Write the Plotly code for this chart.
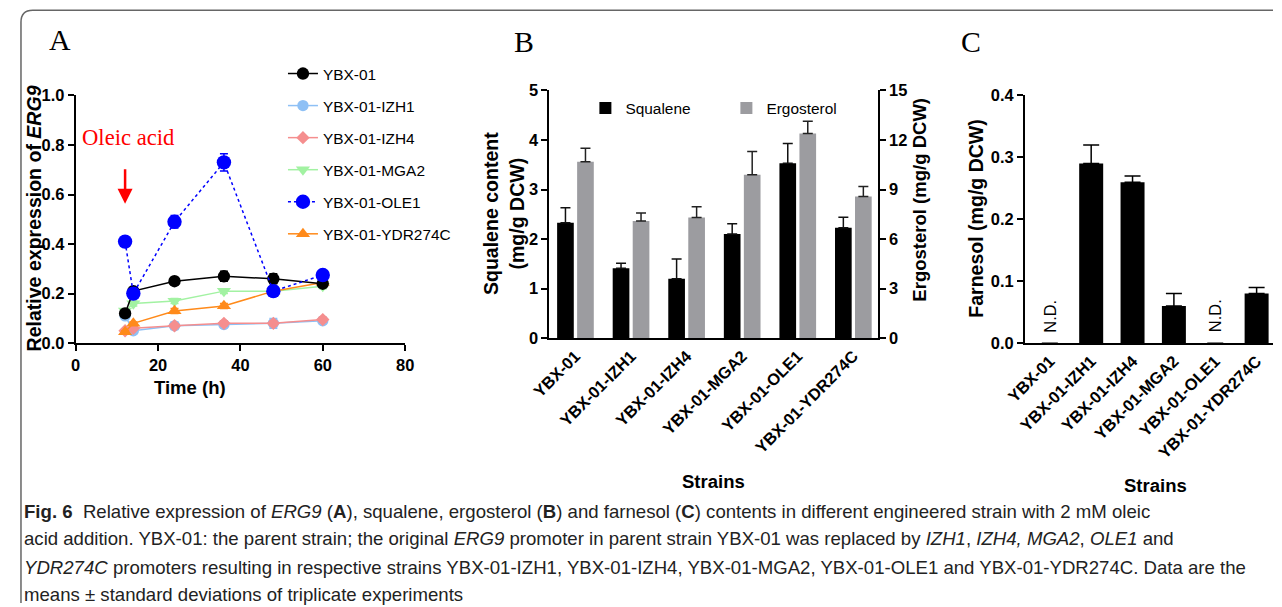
import plotly.graph_objects as go

# Measured page->picture transform of the renderer (body margin M, scale S, offset C).
M = 8
SX, CX = 0.976, 10.6
SY, CY = 0.968, 1.0
W, H = 1282, 612
FS = 1 / 0.972  # size compensation

# ---------------- data ----------------
times = [12, 14, 24, 36, 48, 60]
series_names = ["YBX-01", "YBX-01-IZH1", "YBX-01-IZH4", "YBX-01-MGA2", "YBX-01-OLE1", "YBX-01-YDR274C"]
ybx01 = [0.12, 0.21, 0.25, 0.27, 0.26, 0.24]
ybx01_err = [0.01, 0.01, 0.01, 0.02, 0.02, 0.01]
izh1 = [0.11, 0.05, 0.07, 0.075, 0.08, 0.09]
izh1_err = [0.005, 0.01, 0.015, 0.01, 0.02, 0.01]
izh4 = [0.05, 0.06, 0.07, 0.08, 0.08, 0.095]
izh4_err = [0.005, 0.005, 0.005, 0.01, 0.01, 0.01]
mga2 = [0.13, 0.16, 0.17, 0.21, 0.21, 0.23]
mga2_err = [0.005, 0.01, 0.01, 0.01, 0.01, 0.01]
ole1 = [0.41, 0.20, 0.49, 0.73, 0.21, 0.275]
ole1_err = [0.01, 0.01, 0.025, 0.035, 0.02, 0.01]
ydr = [0.045, 0.08, 0.13, 0.15, 0.21, 0.245]
ydr_err = [0.005, 0.005, 0.01, 0.01, 0.01, 0.01]

strains = ["YBX-01", "YBX-01-IZH1", "YBX-01-IZH4", "YBX-01-MGA2", "YBX-01-OLE1", "YBX-01-YDR274C"]
squalene = [2.33, 1.41, 1.20, 2.10, 3.53, 2.23]
squalene_err = [0.30, 0.10, 0.40, 0.21, 0.40, 0.21]
ergosterol = [10.68, 7.10, 7.30, 9.90, 12.40, 8.58]
ergosterol_err = [0.82, 0.48, 0.65, 1.40, 0.73, 0.60]
farnesol = [0, 0.29, 0.26, 0.06, 0, 0.08]
farnesol_err = [0, 0.03, 0.01, 0.02, 0, 0.01]
nd_strains = ["YBX-01", "YBX-01-OLE1"]
nd_y = [0.044, 0.044]

# ---------------- helpers (picture px -> paper) ----------------
def px(x):
    return min(1.0, max(0.0, ((x - CX) / SX - M) / W))

def py(y):
    return min(1.0, max(0.0, 1 - ((y - CY) / SY - M) / H))

def f(s):
    return round(s * FS, 2)

FONT = "Liberation Sans, Arial, sans-serif"
SERIF = "Liberation Serif, Times New Roman, serif"

fig = go.Figure()

# ---------------- Panel A ----------------
styleA = [
    (ybx01, ybx01_err, "black", "circle", 12, "solid"),
    (izh1, izh1_err, "#8ec0f5", "circle", 11, "solid"),
    (izh4, izh4_err, "#f58e8e", "diamond", 10, "solid"),
    (mga2, mga2_err, "#a2f2a2", "triangle-down", 12, "solid"),
    (ole1, ole1_err, "#0000ff", "circle", 14, "dot"),
    (ydr, ydr_err, "#ff8a1a", "triangle-up", 12, "solid"),
]
order = [1, 2, 3, 5, 0, 4]  # draw order (black & blue on top)
for i in order:
    vals, err, col, sym, sz, dash = styleA[i]
    fig.add_trace(go.Scatter(
        x=times, y=vals, mode="lines+markers", name=series_names[i],
        line=dict(color=col, width=1.5, dash=dash),
        marker=dict(color=col, symbol=sym, size=f(sz)),
        error_y=dict(type="data", array=err, color=col, thickness=1.5, width=4),
        xaxis="x", yaxis="y", legend="legend", legendgroup=series_names[i],
        legendrank=i + 1,
    ))

# ---------------- Panel B ----------------
fig.add_trace(go.Bar(
    x=strains, y=squalene, name="Squalene", marker=dict(color="black", line=dict(width=0)),
    width=0.30, offset=-0.33,
    error_y=dict(type="data", array=squalene_err, arrayminus=[0] * 6, color="#111", thickness=1.5, width=5),
    xaxis="x2", yaxis="y2", legend="legend2",
))
fig.add_trace(go.Bar(
    x=strains, y=ergosterol, name="Ergosterol", marker=dict(color="#9c9ca0", line=dict(width=0)),
    width=0.30, offset=0.03,
    error_y=dict(type="data", array=ergosterol_err, arrayminus=[0] * 6, color="#222", thickness=1.5, width=5),
    xaxis="x2", yaxis="y3", legend="legend2",
))

# ---------------- Panel C ----------------
fig.add_trace(go.Bar(
    x=strains, y=farnesol, name="Farnesol", marker=dict(color="black", line=dict(width=0)),
    width=0.58, showlegend=False,
    error_y=dict(type="data", array=farnesol_err, arrayminus=[0] * 6, color="black", thickness=1.5, width=8),
    xaxis="x3", yaxis="y4",
))

axis_common = dict(showline=True, linecolor="black", linewidth=2, showgrid=False, zeroline=False,
                   tickcolor="black", tickwidth=2, ticklen=6, ticks="outside")
tickA = dict(family=FONT, size=f(16), color="black", weight="bold")
tickB = dict(family=FONT, size=f(16), color="black", weight="bold")

# panel C keeps the reference category pitch (41.3 px) up to the right edge we can reach
c_right = (W + M) * SX + CX
c_range_end = -0.6 + (c_right - 1022) / 41.3

fig.update_layout(
    width=W, height=H, margin=dict(l=0, r=0, t=0, b=0),
    paper_bgcolor="white", plot_bgcolor="white",
    font=dict(family=FONT, color="black"),
    barmode="overlay",
    xaxis=dict(domain=[px(74), px(403)], range=[0, 80], anchor="y", tickvals=[0, 20, 40, 60, 80],
               tickfont=tickA, **axis_common),
    yaxis=dict(domain=[py(342), py(95)], range=[0, 1], anchor="x", tickvals=[0, 0.2, 0.4, 0.6, 0.8, 1.0],
               tickformat=".1f", tickfont=tickA, **axis_common),
    xaxis2=dict(domain=[px(547), px(875)], range=[-0.47, 5.44], anchor="y2", type="category",
                tickangle=-45, tickfont=tickB,
                showline=True, linecolor="black", linewidth=2, showgrid=False, zeroline=False, ticks=""),
    yaxis2=dict(domain=[py(337), py(90)], range=[0, 5], anchor="x2", dtick=1, tickfont=tickB, **axis_common),
    yaxis3=dict(range=[0, 15], anchor="x2", overlaying="y2", side="right", dtick=3, tickfont=tickB, **axis_common),
    xaxis3=dict(domain=[px(1022), 1.0], range=[-0.6, c_range_end], anchor="y4", type="category",
                tickangle=-45, tickfont=tickB,
                showline=True, linecolor="black", linewidth=2, showgrid=False, zeroline=False, ticks=""),
    yaxis4=dict(domain=[py(342), py(95)], range=[0, 0.4], anchor="x3", tickvals=[0, 0.1, 0.2, 0.3, 0.4],
                tickformat=".1f", tickfont=tickB, **axis_common),
    legend=dict(x=px(281), y=py(56.6), xanchor="left", yanchor="top", bgcolor="rgba(0,0,0,0)",
                font=dict(family=FONT, size=f(15), color="black"), tracegroupgap=9, itemsizing="trace"),
    legend2=dict(x=px(583), y=py(91), xanchor="left", yanchor="top", orientation="h", bgcolor="rgba(0,0,0,0)",
                 font=dict(family=FONT, size=f(15), color="black"), entrywidth=96, entrywidthmode="pixels"),
)

ann = []
def A(x, y, text, font, angle=0, xanchor="center"):
    return dict(x=px(x), y=py(y), xref="paper", yref="paper", text=text, showarrow=False,
                xanchor=xanchor, yanchor="middle", textangle=angle, font=font)

# panel letters
for letter, x, y in [("A", 58, 39), ("B", 522, 41), ("C", 968, 41)]:
    ann.append(A(x, y, letter, dict(family=SERIF, size=f(29), color="black")))
# axis titles
title_font = dict(family=FONT, size=f(18), color="black", weight="bold")
title_big = dict(family=FONT, size=f(19), color="black", weight="bold")
ann += [
    A(32, 218, "Relative expression of <i>ERG9</i>", title_big, -90),
    A(188, 386, "Time (h)", title_font),
    A(502, 213, "Squalene content<br>(mg/g DCW)", title_big, -90),
    A(917, 199, "Ergosterol (mg/g DCW)", title_font, -90),
    A(711, 480, "Strains", title_font),
    A(973, 217, "Farnesol (mg/g DCW)", title_big, -90),
    A(1152, 484, "Strains", title_font),
]
# N.D. labels in panel C
for s, yv in zip(nd_strains, nd_y):
    ann.append(dict(x=s, y=yv, xref="x3", yref="y4", text="N.D.", showarrow=False, textangle=-90,
                    xanchor="center", yanchor="middle", font=dict(family=FONT, size=f(16), color="black")))
# oleic acid annotation
ann.append(A(127, 137, "Oleic acid", dict(family=SERIF, size=f(22), color="#ff0000")))
ann.append(dict(x=12, y=0.563, xref="x", yref="y", text="", showarrow=True, ax=0, ay=-36,
                arrowcolor="#ff0000", arrowwidth=2.5, arrowhead=2, arrowsize=1.2))
# caption
CAP = "Liberation Sans, Arial, sans-serif"
cap_lines = [
    "<b>Fig. 6</b>  Relative expression of <i>ERG9</i> (<b>A</b>), squalene, ergosterol (<b>B</b>) and farnesol (<b>C</b>) contents in different engineered strain with 2 mM oleic",
    "acid addition. YBX-01: the parent strain; the original <i>ERG9</i> promoter in parent strain YBX-01 was replaced by <i>IZH1</i>, <i>IZH4, MGA2</i>, <i>OLE1</i> and",
    "<i>YDR274C</i> promoters resulting in respective strains YBX-01-IZH1, YBX-01-IZH4, YBX-01-MGA2, YBX-01-OLE1 and YBX-01-YDR274C. Data are the",
    "means ± standard deviations of triplicate experiments",
]
cap_x = max(0.0015, px(10))
for line, y in zip(cap_lines, [510, 537, 566, 593]):
    ann.append(dict(x=cap_x, y=py(y), xref="paper", yref="paper", text=line, showarrow=False,
                    xanchor="left", yanchor="middle", align="left",
                    font=dict(family=CAP, size=18.6, color="#222")))
fig.update_layout(annotations=ann)

# frame (rounded top-left corner)
fx = 1.0 / W
r = 12
path = (f"M {fx},0 L {fx},{py(10 + r)} Q {fx},{py(10)} {fx + r / W},{py(10)} "
        f"L 1,{py(10)}")
fig.add_shape(type="path", path=path, xref="paper", yref="paper", line=dict(color="#666", width=1.5))

fig.write_html("out.html")
